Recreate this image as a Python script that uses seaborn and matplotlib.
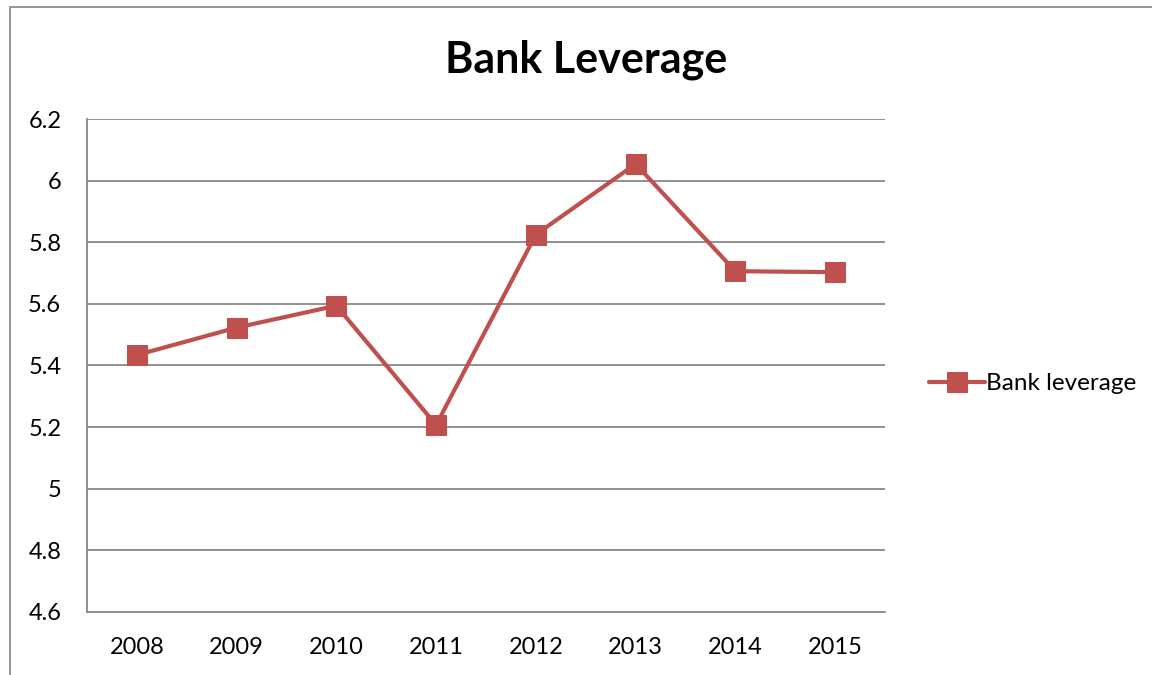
import matplotlib
matplotlib.use("Agg")
import matplotlib.pyplot as plt
import matplotlib.patches as mpatches
import seaborn as sns
import pandas as pd
import numpy as np

years = ["2008", "2009", "2010", "2011", "2012", "2013", "2014", "2015"]
leverage = [5.434, 5.523, 5.594, 5.207, 5.825, 6.054, 5.706, 5.703]
y_ticks = [4.6, 4.8, 5.0, 5.2, 5.4, 5.6, 5.8, 6.0, 6.2]
y_tick_labels = ["4.6", "4.8", "5", "5.2", "5.4", "5.6", "5.8", "6", "6.2"]
series_name = "Bank leverage"
title = "Bank Leverage"

sns.set_theme(style="white")
plt.rcParams["font.family"] = ["Lato", "DejaVu Sans"]

W, H = 1152, 675
fig = plt.figure(figsize=(W / 100, H / 100), dpi=100)
ax = fig.add_axes([87 / W, 1 - 612 / H, (885 - 87) / W, (612 - 119) / H])

grid_c = "#888888"
red = "#C0504D"

df = pd.DataFrame({"pos": np.arange(len(years)), "value": leverage, "series": series_name})

sns.lineplot(data=df, x="pos", y="value", hue="series", palette=[red],
             marker="s", markersize=14, markeredgecolor=red, linewidth=3.0,
             ax=ax, zorder=3)

ax.set_xlim(-0.5, len(years) - 0.5)
ax.set_ylim(4.6, 6.2)
ax.set_yticks(y_ticks)
ax.set_yticklabels(y_tick_labels)
ax.set_xticks(np.arange(len(years)))
ax.set_xticklabels(years)
ax.set_xticks(np.arange(len(years) + 1) - 0.5, minor=True)
ax.set_xlabel("")
ax.set_ylabel("")

for y in y_ticks[1:]:
    ax.axhline(y, color=grid_c, linewidth=1.3, zorder=1)

for side in ["top", "right"]:
    ax.spines[side].set_visible(False)
for side in ["left", "bottom"]:
    ax.spines[side].set_color(grid_c)
    ax.spines[side].set_linewidth(1.3)

ax.tick_params(axis="x", which="major", length=0, pad=18, labelsize=17, colors="black")
ax.tick_params(axis="x", which="minor", length=6, width=1.3, color=grid_c, direction="out")
ax.tick_params(axis="y", which="major", length=6.5, width=1.3, color=grid_c, direction="out",
               pad=12, labelsize=17, labelcolor="black")

leg = ax.legend(loc="center left", bbox_to_anchor=(1.04, 0.4625), frameon=False,
                fontsize=17.5, handlelength=2.3, handletextpad=0.05, borderpad=0)
for t in leg.get_texts():
    t.set_color("black")

fig.text(586 / W, 1 - 73 / H, title, ha="center", va="baseline",
         fontsize=31, fontweight="bold", color="black")

# outer chart border
fig.patches.append(mpatches.Rectangle((10 / W, -0.1), 1.2, 1 - 7 / H + 0.1,
                                      transform=fig.transFigure, fill=False,
                                      edgecolor="#8c8c8c", linewidth=1.3))

fig.savefig("out.png", dpi=100)
